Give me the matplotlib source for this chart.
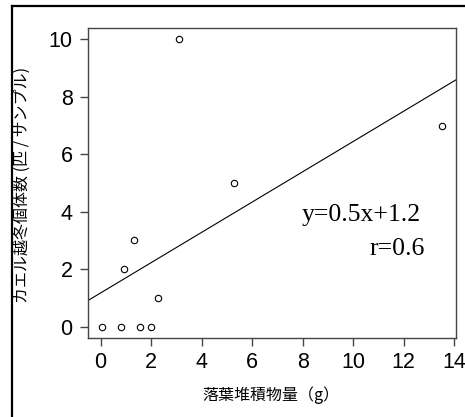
import numpy as np
import matplotlib.pyplot as plt
from matplotlib.lines import Line2D

plt.rcParams['font.family'] = ['Liberation Sans', 'Noto Sans CJK JP', 'DejaVu Sans']

# leaf litter (g) vs. overwintering frogs per sample
litter = [0.07, 0.82, 1.54, 2.0, 0.94, 1.32, 2.28, 3.11, 5.29, 13.52]
frogs = [0, 0, 0, 0, 2, 3, 1, 10, 5, 7]
xticks = [0, 2, 4, 6, 8, 10, 12, 14]
yticks = [0, 2, 4, 6, 8, 10]

slope, intercept = np.polyfit(litter, frogs, 1)

fig = plt.figure(figsize=(4.65, 4.17), dpi=100)
ax = fig.add_axes([88/465, 79/417, 368/465, 310/417])

ax.plot(litter, frogs, linestyle='none', marker='o', markersize=4.6,
        markerfacecolor='white', markeredgecolor='black', markeredgewidth=0.8)
ax.set_xlim(-0.5, 14.07)
ax.set_ylim(-0.4, 10.4)
ax.axline((0, intercept), slope=slope, color='black', linewidth=0.8)

ax.set_xticks(xticks)
ax.set_yticks(yticks)
ax.tick_params(labelsize=15.5, length=6, width=1, color='#444444', pad=4)
ax.tick_params(axis='y', pad=5)
for s in ax.spines.values():
    s.set_color('#444444')
    s.set_linewidth(1)

ax.set_xlabel('落葉堆積物量（g）', fontsize=11.5, va='center',
              family=['Noto Sans CJK JP', 'DejaVu Sans'])
ax.xaxis.set_label_coords(0.497, -0.184)
ax.set_ylabel('カエル越冬個体数 (匹 / サンプル)', fontsize=11.5, va='center',
              family=['Noto Sans CJK JP', 'DejaVu Sans'])
ax.yaxis.set_label_coords(-0.177, 0.495)

ax.text(0.905, 0.397, 'y=0.5x+1.2', transform=ax.transAxes, ha='right',
        va='center', fontsize=18.5, family='Liberation Serif')
ax.text(0.916, 0.287, 'r=0.6', transform=ax.transAxes, ha='right',
        va='center', fontsize=18.5, family='Liberation Serif')

# outer frame (left and top edges visible)
fig.add_artist(Line2D([12/465, 12/465], [0, 411/417], color='black', linewidth=1.6,
                      transform=fig.transFigure))
fig.add_artist(Line2D([12/465, 1], [411/417, 411/417], color='black', linewidth=1.6,
                      transform=fig.transFigure))

fig.savefig('out.png', dpi=100)
